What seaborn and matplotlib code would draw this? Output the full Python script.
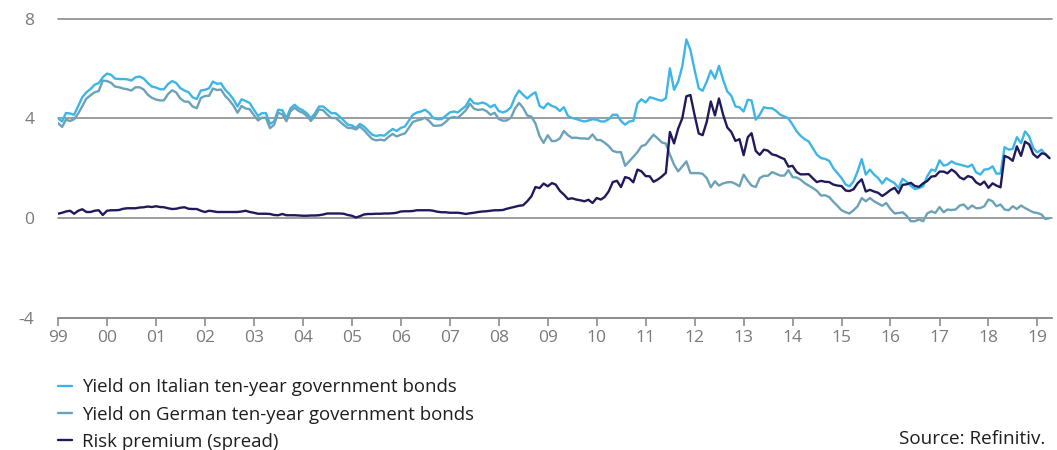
import matplotlib
matplotlib.use("Agg")
import matplotlib.pyplot as plt
import matplotlib.dates as mdates
import pandas as pd
import seaborn as sns

# monthly values, Jan 1999 - Apr 2019 (percent)
italy = [
    4.00, 3.88, 4.22, 4.20, 4.15, 4.50, 4.85, 5.05, 5.18, 5.35, 5.42, 5.65,  # 1999
    5.80, 5.75, 5.60, 5.58, 5.58, 5.57, 5.52, 5.65, 5.68, 5.60, 5.42, 5.28,  # 2000
    5.24, 5.17, 5.17, 5.38, 5.50, 5.42, 5.22, 5.12, 5.05, 4.85, 4.78, 5.12,  # 2001
    5.15, 5.21, 5.48, 5.39, 5.41, 5.15, 4.99, 4.77, 4.48, 4.77, 4.70, 4.62,  # 2002
    4.35, 4.10, 4.21, 4.21, 3.78, 3.88, 4.35, 4.33, 4.01, 4.41, 4.55, 4.41,  # 2003
    4.33, 4.20, 4.01, 4.21, 4.48, 4.48, 4.35, 4.21, 4.21, 4.08, 3.92, 3.75,  # 2004
    3.72, 3.62, 3.78, 3.68, 3.52, 3.35, 3.30, 3.33, 3.31, 3.45, 3.58, 3.50,  # 2005
    3.62, 3.68, 3.90, 4.15, 4.24, 4.28, 4.35, 4.22, 4.01, 3.97, 3.97, 4.10,  # 2006
    4.24, 4.28, 4.24, 4.37, 4.50, 4.79, 4.61, 4.59, 4.64, 4.58, 4.45, 4.55,  # 2007
    4.30, 4.24, 4.30, 4.45, 4.85, 5.12, 4.95, 4.80, 4.95, 5.05, 4.50, 4.41,  # 2008
    4.61, 4.50, 4.45, 4.30, 4.45, 4.10, 4.02, 3.98, 3.92, 3.88, 3.92, 3.97,  # 2009
    3.95, 3.88, 3.88, 3.97, 4.15, 4.15, 3.90, 3.75, 3.88, 3.90, 4.60, 4.77,  # 2010
    4.64, 4.85, 4.81, 4.75, 4.71, 4.81, 6.01, 5.15, 5.48, 6.08, 7.17, 6.75,  # 2011
    5.95, 5.21, 5.11, 5.48, 5.92, 5.60, 6.11, 5.55, 5.08, 4.91, 4.48, 4.45,  # 2012
    4.28, 4.75, 4.72, 3.95, 4.15, 4.45, 4.41, 4.41, 4.30, 4.15, 4.08, 4.00,  # 2013
    3.75, 3.48, 3.31, 3.17, 3.08, 2.81, 2.55, 2.41, 2.38, 2.30, 2.01, 1.81,  # 2014
    1.61, 1.35, 1.28, 1.48, 1.88, 2.37, 1.75, 1.95, 1.75, 1.61, 1.39, 1.61,  # 2015
    1.50, 1.41, 1.21, 1.58, 1.46, 1.30, 1.17, 1.21, 1.28, 1.68, 1.95, 1.90,  # 2016
    2.32, 2.11, 2.15, 2.28, 2.19, 2.15, 2.11, 2.06, 2.15, 1.84, 1.75, 1.95,  # 2017
    1.97, 2.08, 1.79, 1.79, 2.85, 2.75, 2.78, 3.25, 3.01, 3.48, 3.28, 2.81,  # 2018
    2.64, 2.75, 2.55, 2.41,                                                  # 2019
]

germany = [
    3.82, 3.66, 3.95, 3.90, 3.97, 4.20, 4.49, 4.80, 4.93, 5.05, 5.10, 5.52,  # 1999
    5.50, 5.43, 5.28, 5.25, 5.20, 5.17, 5.12, 5.25, 5.25, 5.16, 4.95, 4.83,  # 2000
    4.76, 4.72, 4.73, 4.98, 5.13, 5.04, 4.80, 4.68, 4.67, 4.48, 4.41, 4.82,  # 2001
    4.90, 4.91, 5.20, 5.14, 5.16, 4.90, 4.74, 4.52, 4.23, 4.50, 4.40, 4.37,  # 2002
    4.13, 3.92, 4.03, 4.03, 3.61, 3.75, 4.23, 4.16, 3.89, 4.29, 4.43, 4.30,  # 2003
    4.23, 4.10, 3.90, 4.10, 4.36, 4.33, 4.16, 4.02, 4.02, 3.89, 3.74, 3.62,  # 2004
    3.62, 3.56, 3.68, 3.53, 3.35, 3.18, 3.12, 3.15, 3.12, 3.26, 3.38, 3.28,  # 2005
    3.35, 3.40, 3.62, 3.86, 3.92, 3.96, 4.03, 3.90, 3.71, 3.71, 3.73, 3.86,  # 2006
    4.02, 4.06, 4.02, 4.17, 4.33, 4.59, 4.39, 4.34, 4.37, 4.30, 4.15, 4.23,  # 2007
    3.98, 3.91, 3.92, 4.03, 4.39, 4.62, 4.43, 4.12, 4.07, 3.80, 3.29, 3.02,  # 2008
    3.33, 3.09, 3.10, 3.20, 3.50, 3.33, 3.22, 3.23, 3.20, 3.20, 3.18, 3.36,  # 2009
    3.14, 3.13, 3.03, 2.89, 2.70, 2.65, 2.65, 2.10, 2.28, 2.46, 2.65, 2.89,  # 2010
    2.95, 3.17, 3.35, 3.20, 3.04, 2.99, 2.55, 2.15, 1.88, 2.08, 2.28, 1.81,  # 2011
    1.81, 1.81, 1.78, 1.61, 1.24, 1.48, 1.31, 1.40, 1.44, 1.45, 1.38, 1.28,  # 2012
    1.75, 1.50, 1.31, 1.25, 1.61, 1.70, 1.70, 1.85, 1.78, 1.71, 1.71, 1.93,  # 2013
    1.65, 1.63, 1.55, 1.41, 1.31, 1.21, 1.10, 0.91, 0.92, 0.85, 0.66, 0.50,  # 2014
    0.32, 0.24, 0.19, 0.32, 0.48, 0.81, 0.68, 0.81, 0.68, 0.59, 0.50, 0.61,  # 2015
    0.37, 0.19, 0.21, 0.24, 0.10, -0.12, -0.12, -0.05, -0.12, 0.19, 0.28, 0.21,  # 2016
    0.45, 0.24, 0.35, 0.33, 0.35, 0.51, 0.55, 0.37, 0.51, 0.40, 0.41, 0.48,  # 2017
    0.75, 0.68, 0.48, 0.55, 0.35, 0.32, 0.48, 0.37, 0.51, 0.41, 0.32, 0.24,  # 2018
    0.21, 0.15, -0.03, 0.00,                                                 # 2019
]

spread = [
    0.18, 0.22, 0.27, 0.30, 0.18, 0.30, 0.36, 0.25, 0.25, 0.30, 0.32, 0.13,  # 1999
    0.30, 0.32, 0.32, 0.33, 0.38, 0.40, 0.40, 0.40, 0.43, 0.44, 0.47, 0.45,  # 2000
    0.48, 0.45, 0.44, 0.40, 0.37, 0.38, 0.42, 0.44, 0.38, 0.37, 0.37, 0.30,  # 2001
    0.25, 0.30, 0.28, 0.25, 0.25, 0.25, 0.25, 0.25, 0.25, 0.27, 0.30, 0.25,  # 2002
    0.22, 0.18, 0.18, 0.18, 0.17, 0.13, 0.12, 0.17, 0.12, 0.12, 0.12, 0.11,  # 2003
    0.10, 0.10, 0.11, 0.11, 0.12, 0.15, 0.19, 0.19, 0.19, 0.19, 0.18, 0.13,  # 2004
    0.10, 0.03, 0.08, 0.15, 0.17, 0.17, 0.18, 0.18, 0.19, 0.19, 0.20, 0.22,  # 2005
    0.27, 0.28, 0.28, 0.29, 0.32, 0.32, 0.32, 0.32, 0.30, 0.26, 0.24, 0.24,  # 2006
    0.22, 0.22, 0.22, 0.20, 0.17, 0.20, 0.22, 0.25, 0.27, 0.28, 0.30, 0.32,  # 2007
    0.32, 0.33, 0.38, 0.42, 0.46, 0.50, 0.52, 0.68, 0.88, 1.25, 1.21, 1.39,  # 2008
    1.28, 1.41, 1.35, 1.10, 0.95, 0.77, 0.80, 0.75, 0.72, 0.68, 0.74, 0.61,  # 2009
    0.81, 0.75, 0.85, 1.08, 1.45, 1.50, 1.25, 1.65, 1.60, 1.44, 1.95, 1.88,  # 2010
    1.69, 1.68, 1.46, 1.55, 1.67, 1.82, 3.46, 3.00, 3.60, 4.00, 4.89, 4.94,  # 2011
    4.14, 3.40, 3.33, 3.87, 4.68, 4.12, 4.80, 4.15, 3.64, 3.46, 3.10, 3.17,  # 2012
    2.53, 3.25, 3.41, 2.70, 2.54, 2.75, 2.71, 2.56, 2.52, 2.44, 2.37, 2.07,  # 2013
    2.10, 1.85, 1.76, 1.76, 1.77, 1.60, 1.45, 1.50, 1.46, 1.45, 1.35, 1.31,  # 2014
    1.29, 1.11, 1.09, 1.16, 1.40, 1.56, 1.07, 1.14, 1.07, 1.02, 0.89, 1.00,  # 2015
    1.13, 1.22, 1.00, 1.34, 1.36, 1.42, 1.29, 1.26, 1.40, 1.49, 1.67, 1.69,  # 2016
    1.87, 1.87, 1.80, 1.95, 1.84, 1.64, 1.56, 1.69, 1.64, 1.44, 1.34, 1.47,  # 2017
    1.22, 1.40, 1.31, 1.24, 2.50, 2.43, 2.30, 2.88, 2.50, 3.07, 2.96, 2.57,  # 2018
    2.43, 2.60, 2.58, 2.41,                                                  # 2019
]

labels = [
    "Yield on Italian ten-year government bonds",
    "Yield on German ten-year government bonds",
    "Risk premium (spread)",
]
colors = ["#3db5e6", "#6ca2b8", "#201a5c"]

dates = pd.date_range("1999-01-01", periods=len(italy), freq="MS")

df = pd.concat(
    [
        pd.DataFrame({"date": dates, "value": vals, "series": lab})
        for vals, lab in zip([italy, germany, spread], labels)
    ]
)

sns.set_theme(style="white")
plt.rcParams["font.family"] = ["Open Sans", "DejaVu Sans"]

fig = plt.figure(figsize=(10.57, 4.5), dpi=100)
ax = fig.add_axes([58 / 1057, 1 - 318 / 450, 994 / 1057, 299.3 / 450])

sns.lineplot(
    data=df,
    x="date",
    y="value",
    hue="series",
    hue_order=labels,
    palette=colors,
    linewidth=1.7,
    ax=ax,
)

ax.set_ylim(-4, 8)
ax.set_xlim(pd.Timestamp("1999-01-01"), pd.Timestamp("2019-04-20"))
ax.set_yticks([-4, 0, 4, 8])
ax.set_yticklabels(["-4", "0", "4", "8"])
ax.xaxis.set_major_locator(mdates.YearLocator())
ax.xaxis.set_major_formatter(mdates.DateFormatter("%y"))
ax.set_xlabel("")
ax.set_ylabel("")

grey = "#8c8c8c"
ax.set_axisbelow(True)
ax.yaxis.grid(True, color=grey, linewidth=1.2)
ax.xaxis.grid(False)
for gl in ax.get_ygridlines():
    gl.set_clip_on(False)
for side in ["top", "left", "right"]:
    ax.spines[side].set_visible(False)
ax.spines["bottom"].set_color(grey)
ax.spines["bottom"].set_linewidth(1.2)

ax.tick_params(axis="x", direction="out", length=6, width=1.2, color=grey,
               labelsize=12.5, labelcolor="#7a7a7a", pad=3, bottom=True)
ax.tick_params(axis="y", length=0, labelsize=12.5, labelcolor="#7a7a7a", pad=17)

handles, _ = ax.get_legend_handles_labels()
ax.get_legend().remove()
fig.legend(
    handles[:3],
    labels,
    loc="upper left",
    bbox_to_anchor=(49 / 1057, 1 - 369 / 450),
    frameon=False,
    fontsize=13.4,
    handlelength=0.75,
    handletextpad=0.5,
    labelspacing=0.5,
    borderpad=0,
    labelcolor="#1e1e1e",
)

fig.text(1045 / 1057, 1 - 439 / 450, "Source: Refinitiv.", ha="right", va="center",
         fontsize=13.6, color="#1e1e1e")

fig.savefig("out.png", dpi=100)
